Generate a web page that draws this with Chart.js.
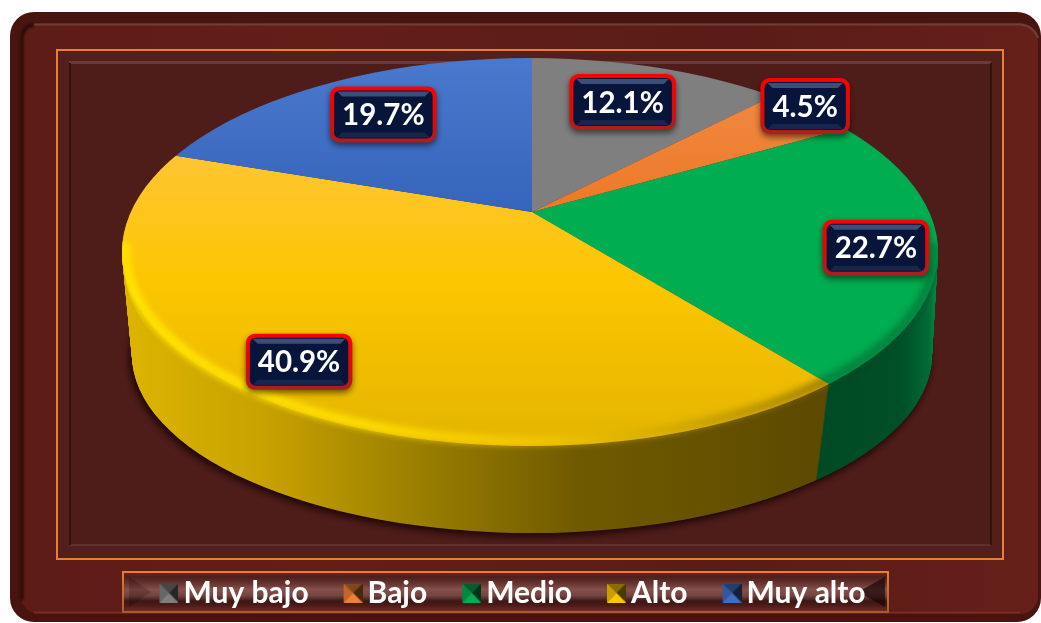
<!DOCTYPE html>
<html>
<head>
<meta charset="utf-8">
<script src="https://cdn.jsdelivr.net/npm/chart.js@4"></script>
<style>
  html, body { margin: 0; background: #fff; }
  canvas { display: block; }
</style>
</head>
<body>
<canvas id="pieChart" width="1041" height="623"></canvas>
<script>
const categories = ['Muy bajo', 'Bajo', 'Medio', 'Alto', 'Muy alto'];
const percentages = [12.1, 4.5, 22.7, 40.9, 19.7];
const sliceColors = ['#7f7f7f', '#f08033', '#00ad50', '#fcc500', '#3f6ec4'];

// label placement along each slice's middle angle
const labelRadius = [244, 348, 350, 403, 256];
const labelNudgeY = [-6, -7, 6, -1, -2];

// projected pie: wedges fan out of the apex, the face is cut by an off-centre ellipse
const apex = { x: 532, y: 212 };
const squash = 2.18;
const wedgeRadius = 620;
const faceEllipse = { x: 530, y: 252, rx: 408, ry: 194 };
const baseEllipse = { x: 532, y: 355, rx: 400, ry: 178 };

const LABEL_FONT = '"Lato", "Open Sans", sans-serif';

function rr(ctx, x, y, w, h, r) {
  ctx.beginPath();
  ctx.roundRect(x, y, w, h, r);
}

function ellipsePath(ctx, e) {
  ctx.beginPath();
  ctx.ellipse(e.x, e.y, e.rx, e.ry, 0, 0, Math.PI * 2);
}

function shade(hex, k) {
  const n = parseInt(hex.slice(1), 16);
  const c = [n >> 16, (n >> 8) & 255, n & 255].map(v => Math.round(v * k));
  return `rgb(${c[0]},${c[1]},${c[2]})`;
}

// little bevelled legend squares, with spare room on the left to sit closer to the text
function makeMarker(color) {
  const size = 19;
  const spare = 4;
  const c = document.createElement('canvas');
  c.width = size + spare;
  c.height = size;
  const g = c.getContext('2d');
  g.translate(spare, 0);
  const tri = (x1, y1, x2, y2, fill) => {
    g.fillStyle = fill;
    g.beginPath();
    g.moveTo(x1, y1);
    g.lineTo(x2, y2);
    g.lineTo(size / 2, size / 2);
    g.closePath();
    g.fill();
  };
  tri(0, 0, size, 0, shade(color, 0.55));
  tri(size, 0, size, size, shade(color, 0.3));
  tri(0, 0, 0, size, shade(color, 0.8));
  tri(0, size, size, size, shade(color, 1));
  return c;
}
const markers = sliceColors.map(makeMarker);

function drawFrame(ctx) {
  // outer board
  rr(ctx, 10, 12, 1031, 610, 24);
  ctx.fillStyle = '#47140f';
  ctx.fill();
  const board = ctx.createLinearGradient(20, 0, 1040, 0);
  board.addColorStop(0, '#5e1c16');
  board.addColorStop(0.3, '#631e18');
  board.addColorStop(0.7, '#5a1c18');
  board.addColorStop(1, '#661f19');
  rr(ctx, 21, 23, 1017, 591, 18);
  ctx.fillStyle = board;
  ctx.fill();
  // bevel lines
  ctx.save();
  ctx.filter = 'blur(1px)';
  ctx.strokeStyle = '#260a07';
  ctx.lineWidth = 3;
  ctx.beginPath();
  ctx.moveTo(22, 600);
  ctx.lineTo(22, 42);
  ctx.quadraticCurveTo(22, 26, 34, 25);
  ctx.stroke();
  ctx.restore();
  ctx.strokeStyle = '#6f3e38';
  ctx.lineWidth = 2;
  ctx.beginPath();
  ctx.moveTo(34, 24.5);
  ctx.lineTo(1020, 24.5);
  ctx.quadraticCurveTo(1034, 26, 1038, 38);
  ctx.stroke();
  ctx.strokeStyle = '#7a2f28';
  ctx.lineWidth = 1.5;
  ctx.beginPath();
  ctx.moveTo(34, 612.5);
  ctx.lineTo(1020, 612.5);
  ctx.stroke();

  // orange panel
  ctx.fillStyle = '#531f1b';
  ctx.fillRect(56, 49, 948, 511);
  ctx.strokeStyle = '#ed7d31';
  ctx.lineWidth = 2;
  ctx.strokeRect(57, 50, 946, 509);
  // sunken inner panel
  ctx.fillStyle = '#4e1d1a';
  ctx.fillRect(70, 64, 920, 481);
  ctx.fillStyle = '#6a3a36';
  ctx.fillRect(69, 61, 922, 3);
  ctx.fillStyle = '#5f302c';
  ctx.fillRect(69, 544, 922, 2);
  ctx.fillStyle = '#36110e';
  ctx.fillRect(69, 63, 2, 482);
  ctx.fillRect(990, 63, 2, 482);

  // legend plate
  const plate = ctx.createLinearGradient(0, 573, 0, 612);
  plate.addColorStop(0, '#6b2320');
  plate.addColorStop(0.1, '#4d1e1b');
  plate.addColorStop(0.28, '#683632');
  plate.addColorStop(0.42, '#85504c');
  plate.addColorStop(0.58, '#744440');
  plate.addColorStop(0.72, '#3c1715');
  plate.addColorStop(0.82, '#4a1a17');
  plate.addColorStop(1, '#7a2c26');
  ctx.fillStyle = plate;
  ctx.fillRect(123, 572, 766, 41);
  [[129, 151, 0.22], [885, 858, 0.7]].forEach(([a, b, alpha]) => {
    ctx.fillStyle = `rgba(25,6,5,${alpha})`;
    ctx.beginPath();
    ctx.moveTo(a, 577);
    ctx.lineTo(b, 592);
    ctx.lineTo(a, 607);
    ctx.closePath();
    ctx.fill();
  });
  const edge = ctx.createLinearGradient(0, 571, 0, 613);
  edge.addColorStop(0, '#ed7d31');
  edge.addColorStop(1, '#a65a30');
  ctx.strokeStyle = edge;
  ctx.lineWidth = 2;
  ctx.strokeRect(123, 572, 765, 40);
}

function drawPie(chart) {
  const ctx = chart.ctx;
  const arcs = chart.getDatasetMeta(0).data;
  const s = wedgeRadius / arcs[0].outerRadius;
  const ux = px => (px - apex.x) / s + arcs[0].x;
  const uy = py => (py - apex.y) * squash / s + arcs[0].y;

  const toWedgeSpace = dy => {
    ctx.translate(apex.x, apex.y + dy);
    ctx.scale(s, s / squash);
    ctx.translate(-arcs[0].x, -arcs[0].y);
  };
  const drawArc = (arc, fill, dy) => {
    const keep = arc.options;
    arc.options = Object.assign({}, keep, { backgroundColor: fill, borderWidth: 0 });
    ctx.save();
    toWedgeSpace(dy);
    arc.draw(ctx);
    ctx.restore();
    arc.options = keep;
  };
  const wedgeClip = arc => {
    ctx.save();
    toWedgeSpace(0);
    ctx.beginPath();
    ctx.moveTo(arc.x, arc.y);
    ctx.arc(arc.x, arc.y, arc.outerRadius, arc.startAngle, arc.endAngle);
    ctx.closePath();
    ctx.restore();
    ctx.clip();
  };

  // drop shadow of the base
  ctx.save();
  ctx.shadowColor = 'rgba(18,0,0,0.95)';
  ctx.shadowBlur = 9;
  ctx.shadowOffsetX = -2;
  ctx.shadowOffsetY = 3;
  ctx.fillStyle = '#2a0a08';
  ellipsePath(ctx, baseEllipse);
  ctx.fill();
  ctx.restore();

  // side wall, stacked from the bottom up
  const sideFill = sliceColors.map(c => shade(c, 0.45));
  const yellowSide = ctx.createLinearGradient(ux(125), 0, ux(820), 0);
  yellowSide.addColorStop(0, '#dcb400');
  yellowSide.addColorStop(0.2, '#c8a200');
  yellowSide.addColorStop(0.42, '#9b7f00');
  yellowSide.addColorStop(0.65, '#705a00');
  yellowSide.addColorStop(1, '#5d4a00');
  sideFill[3] = yellowSide;
  const greenSide = ctx.createLinearGradient(ux(815), 0, ux(938), 0);
  greenSide.addColorStop(0, '#004a24');
  greenSide.addColorStop(0.7, '#004f27');
  greenSide.addColorStop(0.92, '#006a35');
  greenSide.addColorStop(1, '#009047');
  sideFill[2] = greenSide;

  const depth = baseEllipse.y - faceEllipse.y;
  for (let d = depth; d > 0; d -= 1) {
    const t = d / depth;
    const e = {
      x: faceEllipse.x + (baseEllipse.x - faceEllipse.x) * t,
      y: faceEllipse.y + d,
      rx: faceEllipse.rx + (baseEllipse.rx - faceEllipse.rx) * t,
      ry: faceEllipse.ry + (baseEllipse.ry - faceEllipse.ry) * t
    };
    ctx.save();
    ellipsePath(ctx, e);
    ctx.clip();
    arcs.forEach((arc, i) => drawArc(arc, sideFill[i], d));
    ctx.restore();
  }

  // top face
  const faceFill = sliceColors.slice();
  const yellowFace = ctx.createLinearGradient(0, uy(150), 0, uy(445));
  yellowFace.addColorStop(0, '#ffc535');
  yellowFace.addColorStop(0.45, '#fcc600');
  yellowFace.addColorStop(1, '#e4b500');
  faceFill[3] = yellowFace;
  const blueFace = ctx.createLinearGradient(0, uy(60), 0, uy(210));
  blueFace.addColorStop(0, '#4a78cc');
  blueFace.addColorStop(1, '#3565bc');
  faceFill[4] = blueFace;
  const orangeFace = ctx.createLinearGradient(0, uy(85), 0, uy(200));
  orangeFace.addColorStop(0, '#f08a45');
  orangeFace.addColorStop(1, '#ee7a28');
  faceFill[1] = orangeFace;

  ctx.save();
  ellipsePath(ctx, faceEllipse);
  ctx.clip();
  arcs.forEach((arc, i) => drawArc(arc, faceFill[i], 0));
  ctx.restore();

  // rounded rim of the face: band inside the edge, soft falloff onto the wall
  const yellowRim = ctx.createLinearGradient(125, 0, 820, 0);
  yellowRim.addColorStop(0, 'rgba(255,228,0,1)');
  yellowRim.addColorStop(0.35, 'rgba(255,224,0,0.9)');
  yellowRim.addColorStop(0.6, 'rgba(255,214,0,0.45)');
  yellowRim.addColorStop(1, 'rgba(120,95,0,0.6)');
  const rim = [
    { i: 3, color: yellowRim },
    { i: 2, color: 'rgba(0,70,35,0.4)' }
  ];
  rim.forEach(r => {
    ctx.save();
    // keep the blur on the pie: face plus a little of the wall
    ctx.beginPath();
    ctx.ellipse(faceEllipse.x, faceEllipse.y, faceEllipse.rx, faceEllipse.ry, 0, 0, Math.PI * 2);
    ctx.ellipse(faceEllipse.x + 1, faceEllipse.y + 12, faceEllipse.rx - 1, faceEllipse.ry, 0, 0, Math.PI * 2);
    ctx.clip();
    wedgeClip(arcs[r.i]);
    ctx.filter = 'blur(3px)';
    ctx.strokeStyle = r.color;
    ctx.lineWidth = 10;
    ctx.beginPath();
    ctx.ellipse(faceEllipse.x, faceEllipse.y, faceEllipse.rx - 3, faceEllipse.ry - 5, 0, -0.05, Math.PI + 0.05);
    ctx.stroke();
    ctx.restore();
  });
}

function drawLabels(chart) {
  const ctx = chart.ctx;
  const arcs = chart.getDatasetMeta(0).data;
  const boxH = 56;
  arcs.forEach((arc, i) => {
    const mid = (arc.startAngle + arc.endAngle) / 2;
    const cx = apex.x + Math.cos(mid) * labelRadius[i];
    const cy = apex.y + Math.sin(mid) * labelRadius[i] / squash + labelNudgeY[i];
    const text = percentages[i].toFixed(1) + '%';
    ctx.save();
    ctx.font = 'bold 29.5px ' + LABEL_FONT;
    const w = ctx.measureText(text).width + 24;
    const x = cx - w / 2;
    const y = cy - boxH / 2;

    ctx.shadowColor = 'rgba(0,0,0,0.55)';
    ctx.shadowBlur = 6;
    ctx.shadowOffsetY = 3;
    const red = ctx.createLinearGradient(0, y, 0, y + boxH);
    red.addColorStop(0, '#ff0000');
    red.addColorStop(0.6, '#e00808');
    red.addColorStop(1, '#a82020');
    rr(ctx, x, y, w, boxH, 9);
    ctx.fillStyle = red;
    ctx.fill();
    ctx.shadowColor = 'transparent';

    const ix = x + 4, iy = y + 4, iw = w - 8, ih = boxH - 8;
    rr(ctx, ix, iy, iw, ih, 6);
    ctx.fillStyle = '#07153a';
    ctx.fill();
    // bevel bands of the navy button
    const band = 6;
    ctx.fillStyle = '#3d4d78';
    ctx.beginPath();
    ctx.moveTo(ix + 3, iy + 1);
    ctx.lineTo(ix + iw - 3, iy + 1);
    ctx.lineTo(ix + iw - band - 2, iy + band);
    ctx.lineTo(ix + band + 2, iy + band);
    ctx.closePath();
    ctx.fill();
    ctx.fillStyle = '#18264e';
    ctx.beginPath();
    ctx.moveTo(ix + 3, iy + ih - 1);
    ctx.lineTo(ix + iw - 3, iy + ih - 1);
    ctx.lineTo(ix + iw - band - 2, iy + ih - band);
    ctx.lineTo(ix + band + 2, iy + ih - band);
    ctx.closePath();
    ctx.fill();

    ctx.fillStyle = '#ffffff';
    ctx.textAlign = 'center';
    ctx.textBaseline = 'middle';
    ctx.fillText(text, cx, cy + 1);
    ctx.restore();
  });
}

const boardPlugin = {
  id: 'board',
  beforeDraw(chart) {
    drawFrame(chart.ctx);
  },
  beforeDatasetsDraw(chart) {
    drawPie(chart);
    return false;
  },
  afterDraw(chart) {
    drawLabels(chart);
  }
};

new Chart(document.getElementById('pieChart'), {
  type: 'pie',
  data: {
    labels: categories,
    datasets: [{
      data: percentages,
      backgroundColor: sliceColors,
      borderWidth: 0
    }]
  },
  options: {
    responsive: false,
    animation: false,
    layout: { padding: { right: 10, bottom: 5 } },
    plugins: {
      tooltip: { enabled: false },
      legend: {
        position: 'bottom',
        labels: {
          usePointStyle: true,
          boxWidth: 3,
          padding: 41,
          color: '#ffffff',
          font: { family: LABEL_FONT, size: 30, weight: 'bold' },
          generateLabels(chart) {
            const base = Chart.overrides.doughnut.plugins.legend.labels.generateLabels(chart);
            return base.map((item, i) => Object.assign(item, { pointStyle: markers[i] }));
          }
        }
      }
    }
  },
  plugins: [boardPlugin]
});
</script>
</body>
</html>
